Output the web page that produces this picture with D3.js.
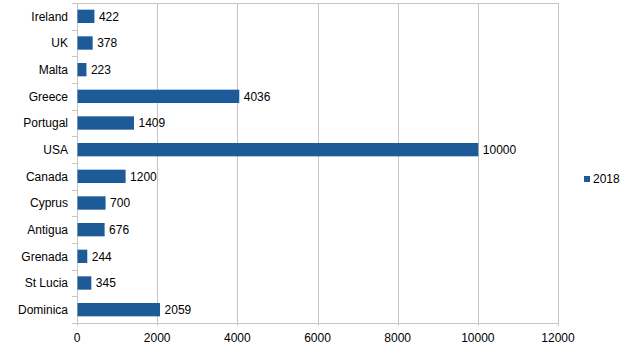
<!DOCTYPE html>
<html>
<head>
<meta charset="utf-8">
<script src="https://cdn.jsdelivr.net/npm/d3@7"></script>
<style>
  body { margin: 0; background: #fff; }
  text { font-family: "Liberation Sans", Arial, sans-serif; font-size: 12px; fill: #000; }
</style>
</head>
<body>
<svg id="chart" width="628" height="354"></svg>
<script>
// data
var countries = ["Ireland", "UK", "Malta", "Greece", "Portugal", "USA", "Canada", "Cyprus", "Antigua", "Grenada", "St Lucia", "Dominica"];
var values2018 = [422, 378, 223, 4036, 1409, 10000, 1200, 700, 676, 244, 345, 2059];
var xTicks = [0, 2000, 4000, 6000, 8000, 10000, 12000];
var seriesName = "2018";

var margin = {left: 77, top: 3, right: 70, bottom: 31};
var width = 558 - margin.left;
var height = 323 - margin.top;
var barColor = "#1c5a98";
var gridColor = "#c6c6c6";

var svg = d3.select("#chart");
var g = svg.append("g").attr("transform", "translate(" + margin.left + "," + margin.top + ")");

var x = d3.scaleLinear().domain([0, 12000]).range([0, width]);
var y = d3.scaleBand().domain(countries).range([0, height]).paddingInner(0.5).paddingOuter(0.25);

// vertical grid lines
g.selectAll("line.grid")
    .data(xTicks)
    .enter().append("line")
    .attr("class", "grid")
    .attr("x1", function(d) { return Math.round(x(d)) + 0.5; })
    .attr("x2", function(d) { return Math.round(x(d)) + 0.5; })
    .attr("y1", 0)
    .attr("y2", height + 3)
    .attr("stroke", gridColor);

// top border
g.append("line")
    .attr("x1", 0).attr("x2", width)
    .attr("y1", 0.5).attr("y2", 0.5)
    .attr("stroke", gridColor);

// bottom axis line
g.append("line")
    .attr("x1", 0).attr("x2", width + 0.5)
    .attr("y1", height + 0.5).attr("y2", height + 0.5)
    .attr("stroke", gridColor);

// category separator ticks on the left
var step = y.step();
var bounds = d3.range(countries.length + 1).map(function(i) { return i * height / countries.length; });
g.selectAll("line.ctick")
    .data(bounds)
    .enter().append("line")
    .attr("class", "ctick")
    .attr("x1", -5).attr("x2", 0)
    .attr("y1", function(d) { return Math.round(d) + 0.5; })
    .attr("y2", function(d) { return Math.round(d) + 0.5; })
    .attr("stroke", gridColor);

// x tick labels
g.selectAll("text.xlab")
    .data(xTicks)
    .enter().append("text")
    .attr("class", "xlab")
    .attr("x", function(d) { return x(d); })
    .attr("y", height + 19)
    .attr("text-anchor", "middle")
    .text(function(d) { return d; });

// bars
g.selectAll("rect.bar")
    .data(countries)
    .enter().append("rect")
    .attr("class", "bar")
    .attr("x", 0.5)
    .attr("y", function(d) { return y(d); })
    .attr("width", function(d, i) { return x(values2018[i]); })
    .attr("height", y.bandwidth())
    .attr("fill", barColor);

// value labels
g.selectAll("text.val")
    .data(countries)
    .enter().append("text")
    .attr("class", "val")
    .attr("x", function(d, i) { return x(values2018[i]) + 5; })
    .attr("y", function(d) { return y(d) + y.bandwidth() / 2; })
    .attr("dy", ".35em")
    .text(function(d, i) { return values2018[i]; });

// category labels
g.selectAll("text.cat")
    .data(countries)
    .enter().append("text")
    .attr("class", "cat")
    .attr("x", -9)
    .attr("y", function(d) { return y(d) + y.bandwidth() / 2; })
    .attr("dy", ".35em")
    .attr("text-anchor", "end")
    .text(function(d) { return d; });

// legend
var legend = svg.append("g").attr("transform", "translate(584,176)");
legend.append("rect").attr("width", 6).attr("height", 6).attr("fill", barColor);
legend.append("text").attr("x", 9).attr("y", 3).attr("dy", ".35em").text(seriesName);
</script>
</body>
</html>
